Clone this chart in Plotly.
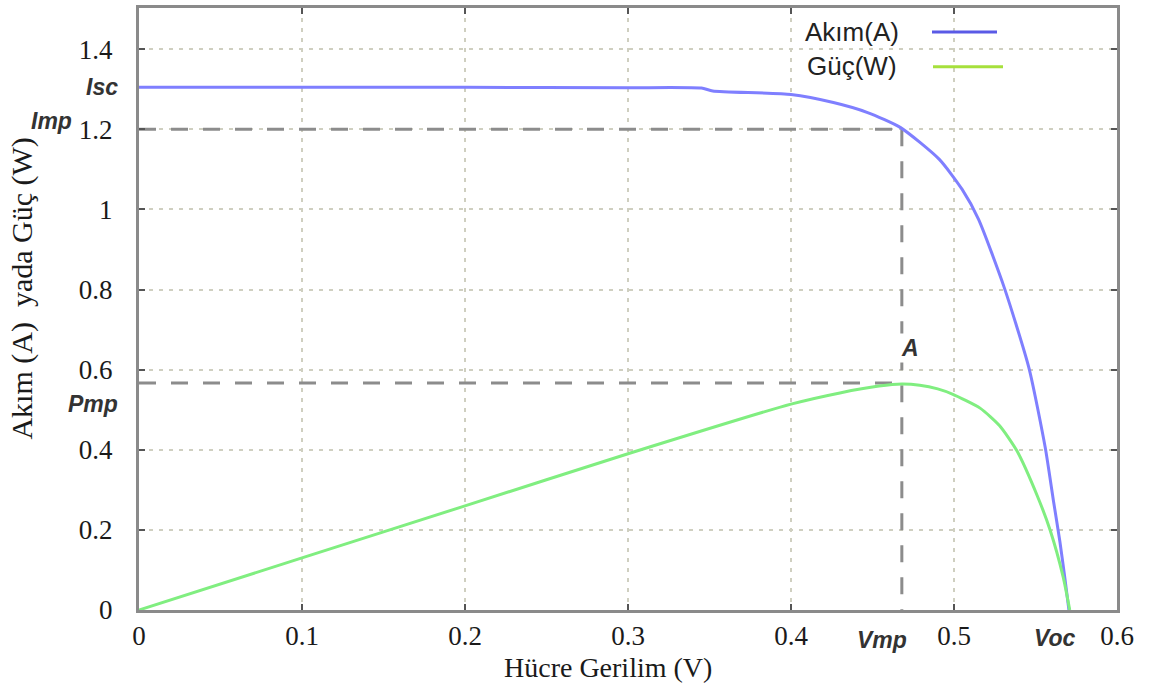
import plotly.graph_objects as go

# I-V curve of the cell (voltage in V, current in A)
volt_i = [0, 0.1, 0.2, 0.3, 0.345, 0.352, 0.4, 0.426, 0.447, 0.467, 0.491,
          0.505, 0.515, 0.531, 0.546, 0.556, 0.561, 0.565, 0.568, 0.5705]
current = [1.305, 1.305, 1.305, 1.304, 1.303, 1.296, 1.287, 1.267, 1.242, 1.205,
           1.125, 1.05, 0.976, 0.803, 0.604, 0.405, 0.273, 0.17, 0.08, 0.0]

# P-V curve of the cell (voltage in V, power in W)
volt_p = [0, 0.1, 0.2, 0.3, 0.4, 0.43, 0.454, 0.468, 0.479, 0.49, 0.499, 0.516,
          0.528, 0.5385, 0.5515, 0.559, 0.567, 0.571]
power = [0, 0.13, 0.26, 0.39, 0.514, 0.542, 0.559, 0.564, 0.561, 0.552, 0.539,
         0.504, 0.46, 0.398, 0.281, 0.199, 0.082, 0]

# Maximum power point and characteristic values
v_mp = 0.468
i_mp = 1.2
p_mp = 0.567
i_sc = 1.305
v_oc = 0.5705

x_ticks = [0, 0.1, 0.2, 0.3, 0.4, 0.5, 0.6]
y_ticks = [0, 0.2, 0.4, 0.6, 0.8, 1, 1.2, 1.4]

W, H = 1155, 688
L, R, T, B = 139, 38, 5, 78
pw, ph = W - L - R, H - T - B


def px_x(p):
    return (p - L) / pw


def px_y(p):
    return (H - B - p) / ph


fig = go.Figure()

dash_style = dict(color="#8c8c8c", width=3, dash="17px,15px")
# Imp and Pmp guide lines from the y axis to the maximum power point
fig.add_trace(go.Scatter(x=[0, v_mp], y=[i_mp, i_mp], mode="lines",
                         line=dash_style, hoverinfo="skip", showlegend=False))
fig.add_trace(go.Scatter(x=[0, v_mp], y=[p_mp, p_mp], mode="lines",
                         line=dash_style, hoverinfo="skip", showlegend=False))
# Vmp guide line down to the x axis
fig.add_trace(go.Scatter(x=[v_mp, v_mp], y=[i_mp, 0], mode="lines",
                         line=dash_style, hoverinfo="skip", showlegend=False))

fig.add_trace(go.Scatter(x=volt_i, y=current, mode="lines", name="Akım(A)",
                         line=dict(color="#7f7fff", width=3, shape="spline",
                                   smoothing=0.6),
                         showlegend=False))
fig.add_trace(go.Scatter(x=volt_p, y=power, mode="lines", name="Güç(W)",
                         line=dict(color="#80ee80", width=3, shape="spline",
                                   smoothing=0.6),
                         showlegend=False))

serif = "Liberation Serif"
sans = "Liberation Sans"
axis_common = dict(
    showgrid=True, gridcolor="#cfcfc0", gridwidth=2, griddash="4px,6px",
    showline=True, linecolor="#8a8a8a", linewidth=3, mirror="allticks",
    ticks="inside", ticklen=6, tickwidth=2, tickcolor="#555555",
    zeroline=False, tickfont=dict(family=serif, size=27, color="#1a1a1a"),
)

fig.update_layout(
    width=W, height=H,
    margin=dict(l=L, r=R, t=T, b=B),
    paper_bgcolor="white", plot_bgcolor="white",
    xaxis=dict(range=[0, 0.6], tickvals=x_ticks,
               ticktext=[f"{v:g}" for v in x_ticks],
               ticklabelstandoff=0, **axis_common),
    yaxis=dict(range=[0, 1.503], tickvals=y_ticks,
               ticktext=[f"{v:g}" for v in y_ticks],
               ticklabelstandoff=18, **axis_common),
)

# Legend box and entries
fig.add_shape(type="rect", xref="paper", yref="paper",
              x0=px_x(795), x1=px_x(1100), y0=px_y(80), y1=px_y(10),
              fillcolor="white", line=dict(width=0), layer="between")
fig.add_shape(type="line", xref="paper", yref="paper",
              x0=px_x(932), x1=px_x(997), y0=px_y(29), y1=px_y(29),
              line=dict(color="#5a5ae6", width=3))
fig.add_shape(type="line", xref="paper", yref="paper",
              x0=px_x(933), x1=px_x(1003), y0=px_y(64), y1=px_y(64),
              line=dict(color="#a6e03c", width=3))

annotations = [
    dict(text="Akım(A)", x=px_x(852), y=px_y(29), xref="paper", yref="paper",
         font=dict(family=sans, size=26, color="#222222")),
    dict(text="Güç(W)", x=px_x(852), y=px_y(63), xref="paper", yref="paper",
         font=dict(family=sans, size=26, color="#222222")),
    # Axis titles
    dict(text="Hücre Gerilim (V)", x=px_x(608), y=px_y(668), xref="paper",
         yref="paper", font=dict(family=serif, size=28, color="#1a1a1a")),
    dict(text="Akım (A) \u00a0yada Güç (W)", x=px_x(22), y=px_y(287),
         xref="paper", yref="paper", textangle=-90,
         font=dict(family=serif, size=30, color="#1a1a1a")),
]

label_font = dict(family=sans, size=23, color="#333333", weight="bold",
                  style="italic")
annotations += [
    dict(text="Isc", x=px_x(102), y=i_sc, xref="paper", yref="y",
         font=label_font),
    dict(text="Imp", x=px_x(51), y=i_mp, yshift=8, xref="paper", yref="y",
         font=label_font),
    dict(text="Pmp", x=px_x(93), y=p_mp, yshift=-21, xref="paper", yref="y",
         font=label_font),
    dict(text="Vmp", x=v_mp, xshift=-20, y=px_y(640), xref="x", yref="paper",
         font=label_font),
    dict(text="Voc", x=v_oc, xshift=-14, y=px_y(638), xref="x", yref="paper",
         font=label_font),
    dict(text="A", x=v_mp, xshift=8, y=p_mp, yshift=35, xref="x", yref="y",
         font=label_font, bgcolor="white"),
]

for a in annotations:
    a.setdefault("showarrow", False)
    a.setdefault("xanchor", "center")
    a.setdefault("yanchor", "middle")
fig.update_layout(annotations=annotations)

fig.write_html("out.html")
